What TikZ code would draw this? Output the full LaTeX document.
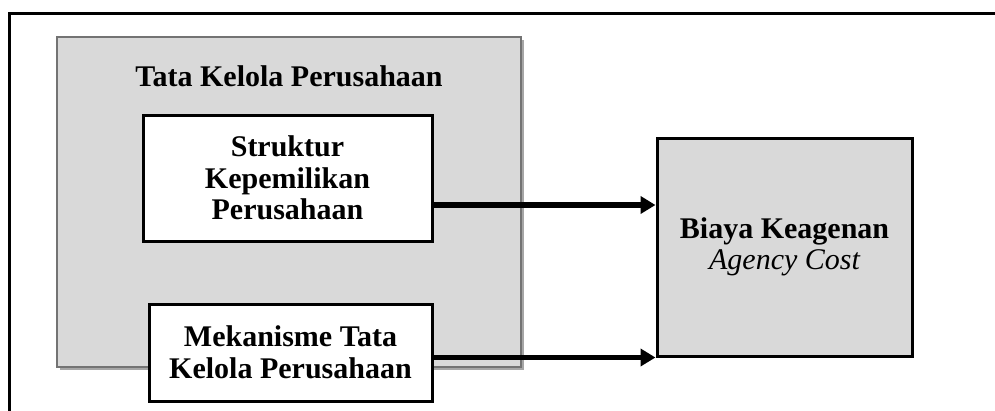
\documentclass[tikz,border=0pt]{standalone}
\usepackage{fontspec}
\setmainfont{Liberation Serif}
\usetikzlibrary{arrows.meta,positioning,shadows}

\begin{document}
\begin{tikzpicture}[
            x=1pt, y=-1pt,
            every node/.style={font=\fontsize{30}{31.5}\selectfont\bfseries},
            group/.style={rectangle, draw=black!55, line width=2.5pt, fill=black!15, inner sep=0pt,
                drop shadow={shadow xshift=3pt, shadow yshift=-3pt, fill=black!35, opacity=1}},
            box/.style={rectangle, draw, line width=3pt, fill=white, align=center, inner sep=0pt},
            target/.style={box, fill=black!15},
            arrow/.style={-{Triangle[length=15pt,width=17pt]}, line width=5.5pt}
        ]
            \clip (0,0) rectangle (995,410);

            % --- BINGKAI ---
            \draw[line width=3pt] (9,430) |- (1010,13);

            % --- TATA KELOLA ---
            \node[group, minimum width=464pt, minimum height=330pt] (tata) at (289,202) {};
            \node[anchor=base] (judul) at (289,86) {Tata Kelola Perusahaan};
            \node[box, minimum width=289pt, minimum height=126pt] (struktur) at (287.5,178)
                {Struktur\\Kepemilikan\\Perusahaan};
            \node[box, minimum width=283pt, minimum height=97pt] (mekanisme) at (290.5,352.5)
                {Mekanisme Tata\\Kelola Perusahaan};

            % --- BIAYA KEAGENAN ---
            \node[target, minimum width=255pt, minimum height=218pt] (agency) at (784.5,247)
                {Biaya Keagenan\\{\normalfont\itshape Agency Cost}};

            % --- PANAH ---
            \draw[arrow] ([yshift=-27pt]struktur.east) -- ([yshift=-27pt]struktur.east -| agency.west);
            \draw[arrow] (mekanisme.east |- agency.south west) -- (agency.south west);

        \end{tikzpicture}
\end{document}
